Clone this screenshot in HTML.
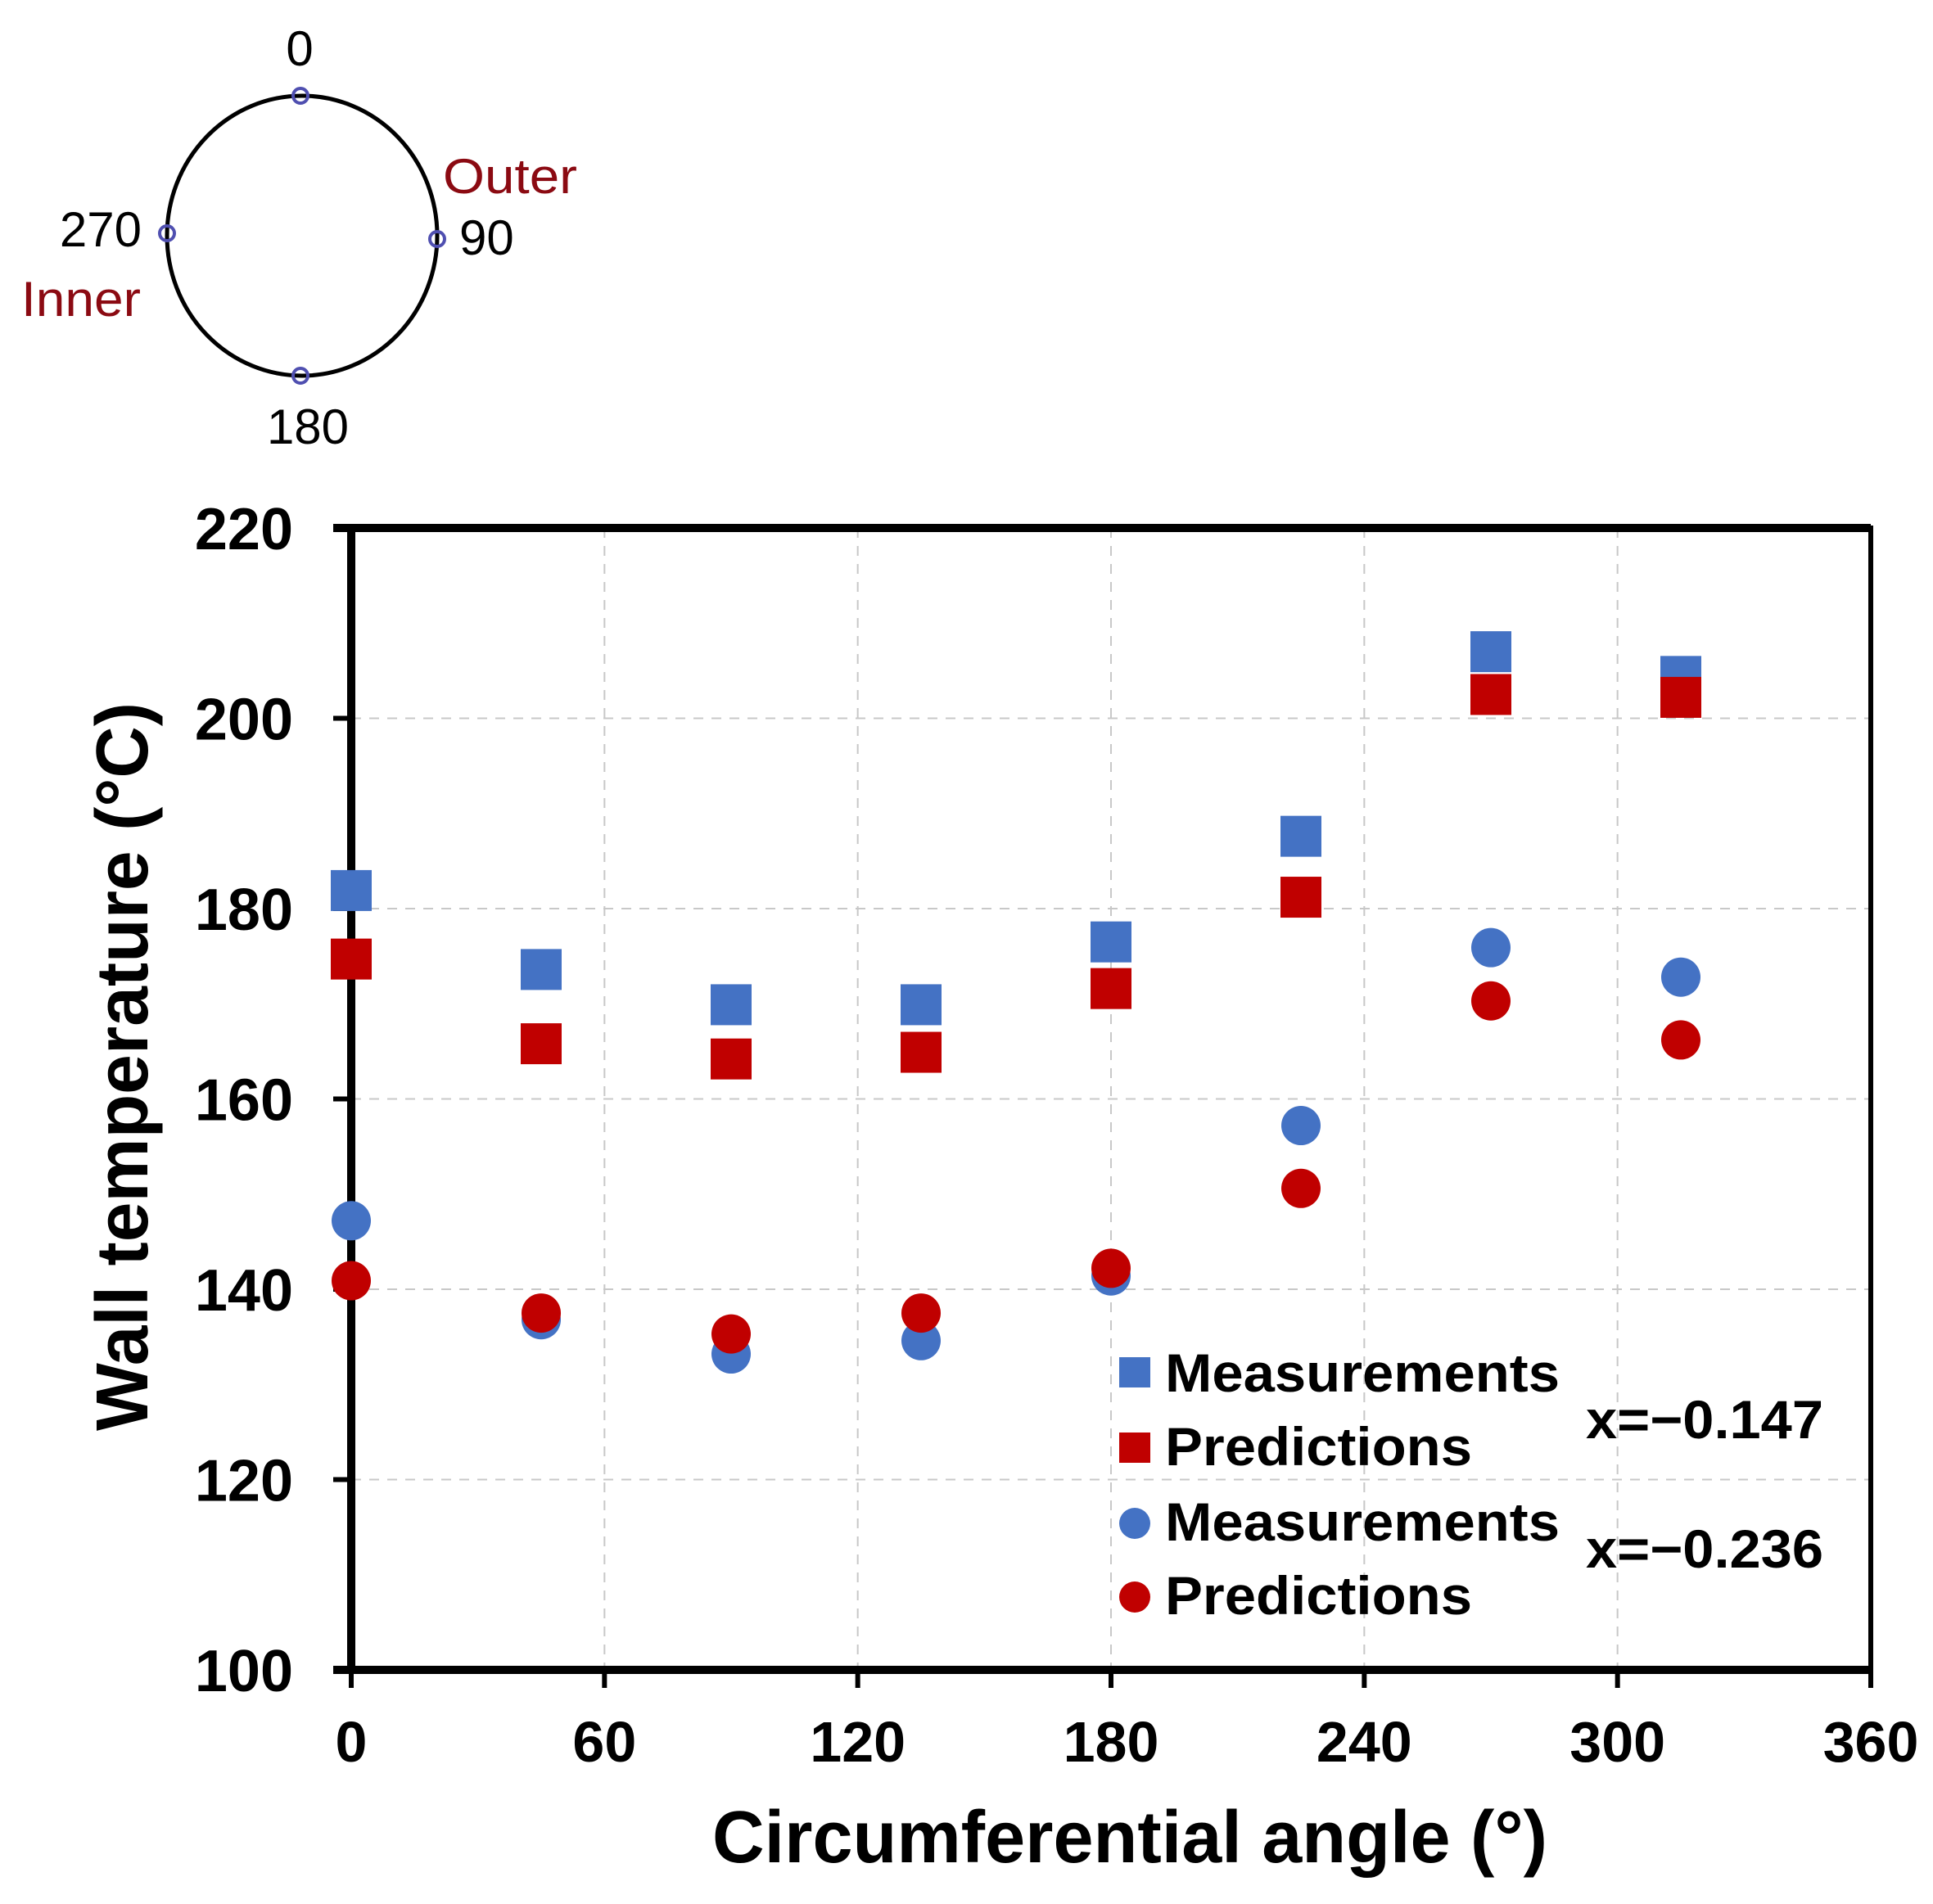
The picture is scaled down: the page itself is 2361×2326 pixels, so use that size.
<!DOCTYPE html>
<html><head><meta charset="utf-8"><style>
html,body{margin:0;padding:0;background:#fff;}
svg{display:block;}
</style></head><body>
<svg id="chart" width="2361" height="2326" viewBox="0 0 2361 2326" xmlns="http://www.w3.org/2000/svg" font-family="'Liberation Sans', Arial, sans-serif">
  <g>
    <ellipse cx="369" cy="288" rx="165" ry="171" fill="none" stroke="#000" stroke-width="5"/>
    <circle cx="367" cy="117" r="9" fill="none" stroke="#4f4fb0" stroke-width="4"/>
    <circle cx="534" cy="292" r="9" fill="none" stroke="#4f4fb0" stroke-width="4"/>
    <circle cx="367" cy="459" r="9" fill="none" stroke="#4f4fb0" stroke-width="4"/>
    <circle cx="204" cy="285" r="9" fill="none" stroke="#4f4fb0" stroke-width="4"/>
    <text x="366" y="80" font-size="60" text-anchor="middle">0</text>
    <text x="561" y="311" font-size="60">90</text>
    <text x="376" y="542" font-size="60" text-anchor="middle">180</text>
    <text x="173" y="301" font-size="60" text-anchor="end">270</text>
    <text x="541" y="236" font-size="60" fill="#8b0a12" textLength="164" lengthAdjust="spacingAndGlyphs">Outer</text>
    <text x="26" y="386" font-size="60" fill="#8b0a12" textLength="146" lengthAdjust="spacingAndGlyphs">Inner</text>
  </g>
  <g id="grid"></g>
  <g id="axes"></g>
  <g id="marks"></g>
  <text x="1380" y="2275" font-size="90" font-weight="bold" text-anchor="middle" textLength="1020" lengthAdjust="spacingAndGlyphs">Circumferential angle (°)</text>
  <text transform="translate(180,1303) rotate(-90)" font-size="90" font-weight="bold" text-anchor="middle" textLength="890" lengthAdjust="spacingAndGlyphs">Wall temperature (°C)</text>
  <g font-weight="bold" font-size="66">
    <rect x="1367" y="1658" width="38" height="37" fill="#4472c4"/>
    <text x="1423" y="1700" textLength="482" lengthAdjust="spacingAndGlyphs">Measurements</text>
    <rect x="1367" y="1750" width="38" height="37" fill="#c00000"/>
    <text x="1423" y="1790" textLength="375" lengthAdjust="spacingAndGlyphs">Predictions</text>
    <ellipse cx="1386" cy="1861" rx="19" ry="19" fill="#4472c4"/>
    <text x="1423" y="1882" textLength="482" lengthAdjust="spacingAndGlyphs">Measurements</text>
    <ellipse cx="1386" cy="1951" rx="19" ry="19" fill="#c00000"/>
    <text x="1423" y="1972" textLength="375" lengthAdjust="spacingAndGlyphs">Predictions</text>
    <text x="1937" y="1757" textLength="290" lengthAdjust="spacingAndGlyphs">x=−0.147</text>
    <text x="1937" y="1915" textLength="290" lengthAdjust="spacingAndGlyphs">x=−0.236</text>
  </g>
</svg>
<script>
const angles = [0, 45, 90, 135, 180, 225, 270, 315];
const measSquare = [181.9, 173.6, 169.9, 169.9, 176.5, 187.6, 207.0, 204.4];
const predSquare = [174.7, 165.8, 164.2, 164.9, 171.6, 181.2, 202.5, 202.2];
const measCircle = [147.2, 136.8, 133.2, 134.6, 141.4, 157.2, 175.9, 172.8];
const predCircle = [140.9, 137.5, 135.3, 137.5, 142.2, 150.6, 170.3, 166.2];
const xTicks = [0, 60, 120, 180, 240, 300, 360];
const yTicks = [100, 120, 140, 160, 180, 200, 220];

const NS = 'http://www.w3.org/2000/svg';
const X0 = 429, X1 = 2285, Y0 = 2040, Y1 = 645;
function xs(v){ return X0 + (v - 0) / 360 * (X1 - X0); }
function ys(v){ return Y0 - (v - 100) / 120 * (Y0 - Y1); }
function mk(tag, attrs){ const e = document.createElementNS(NS, tag); for (const k in attrs) e.setAttribute(k, attrs[k]); return e; }

const grid = document.getElementById('grid');
const axes = document.getElementById('axes');
const marks = document.getElementById('marks');

xTicks.forEach(t => {
  if (t > 0 && t < 360) {
    const g = mk('line', {x1: xs(t), x2: xs(t), y1: Y1, y2: Y0, stroke: '#c8c8c8', 'stroke-width': 2, 'stroke-dasharray': '12 10'});
    
    
    grid.appendChild(g);
  }
  const tk = mk('line', {x1: xs(t), x2: xs(t), y1: Y0, y2: Y0 + 22, stroke: '#000', 'stroke-width': 6});
  
  
  axes.appendChild(tk);
  const lb = mk('text', {x: xs(t), y: Y0 + 112, 'font-size': 70, 'font-weight': 'bold', 'text-anchor': 'middle'});
  lb.textContent = t;
  
  
  axes.appendChild(lb);
});
yTicks.forEach(t => {
  if (t > 100 && t < 220) {
    const g = mk('line', {x1: X0, x2: X1, y1: ys(t), y2: ys(t), stroke: '#c8c8c8', 'stroke-width': 2, 'stroke-dasharray': '12 10'});
    
    
    grid.appendChild(g);
  }
  const tk = mk('line', {x1: X0 - 22, x2: X0, y1: ys(t), y2: ys(t), stroke: '#000', 'stroke-width': 6});
  
  
  axes.appendChild(tk);
  const lb = mk('text', {x: 358, y: ys(t) + 26, 'font-size': 72, 'font-weight': 'bold', 'text-anchor': 'end'});
  lb.textContent = t;
  
  
  axes.appendChild(lb);
});
const frame = mk('rect', {x: X0, y: Y1, width: X1 - X0, height: Y0 - Y1, fill: 'none', stroke: '#000', 'stroke-width': 6});


axes.appendChild(frame);
const xaxis = mk('line', {x1: X0 - 22, x2: X1, y1: Y0, y2: Y0, stroke: '#000', 'stroke-width': 10});


axes.appendChild(xaxis);
const yaxis = mk('line', {x1: X0, x2: X0, y1: Y1, y2: Y0, stroke: '#000', 'stroke-width': 10});


axes.appendChild(yaxis);
const topline = mk('line', {x1: X0 - 22, x2: X1, y1: Y1, y2: Y1, stroke: '#000', 'stroke-width': 10});


axes.appendChild(topline);

function squares(vals, color, name){
  vals.forEach((v, i) => {
    const r = mk('rect', {x: xs(angles[i]) - 25, y: ys(v) - 25, width: 50, height: 50, fill: color});
    
    
    marks.appendChild(r);
  });
}
function circles(vals, color, name){
  vals.forEach((v, i) => {
    const c = mk('circle', {cx: xs(angles[i]), cy: ys(v), r: 24, fill: color});
    
    
    marks.appendChild(c);
  });
}
squares(measSquare, '#4472c4', 'measurement-square-point');
squares(predSquare, '#c00000', 'prediction-square-point');
circles(measCircle, '#4472c4', 'measurement-circle-point');
circles(predCircle, '#c00000', 'prediction-circle-point');
</script>
</body></html>
